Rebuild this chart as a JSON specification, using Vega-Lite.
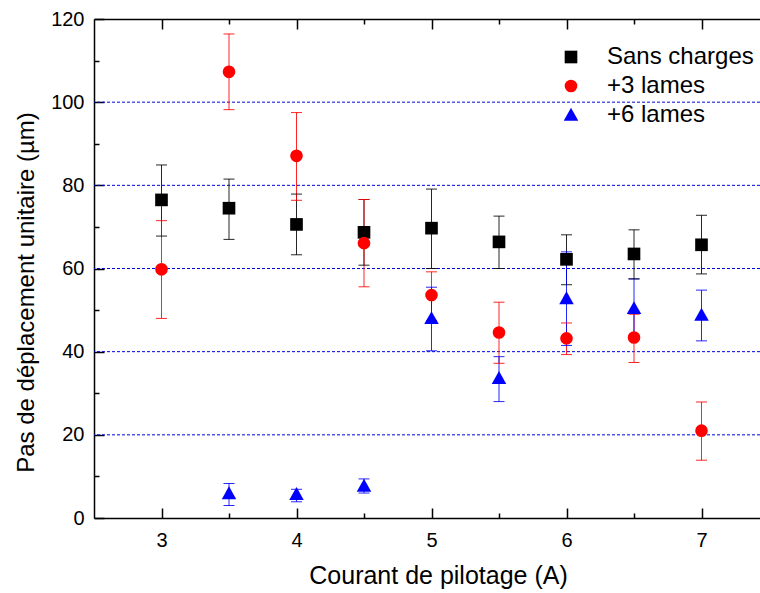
{
  "$schema": "https://vega.github.io/schema/vega-lite/v6.json",
  "width": 666,
  "height": 499,
  "autosize": "none",
  "padding": {"left": 94, "top": 19, "right": 0, "bottom": 75},
  "config": {
    "view": {"stroke": null},
    "font": "Liberation Sans",
    "axis": {"grid": false, "domainColor": "#000", "tickColor": "#000", "labelColor": "#000", "titleColor": "#000", "titleFontWeight": "normal", "labelFont": "Liberation Sans", "titleFont": "Liberation Sans", "domainWidth": 1.5, "tickWidth": 1.5},
    "legend": {"labelFont": "Liberation Sans", "labelColor": "#000"}
  },
  "datasets": {
    "pts": [
      {"s": "Sans charges", "x": 3, "y": 76.5, "lo": 67.8, "hi": 84.9},
      {"s": "Sans charges", "x": 3.5, "y": 74.5, "lo": 67.0, "hi": 81.5},
      {"s": "Sans charges", "x": 4, "y": 70.6, "lo": 63.3, "hi": 77.9},
      {"s": "Sans charges", "x": 4.5, "y": 68.7, "lo": 60.8, "hi": 76.6},
      {"s": "Sans charges", "x": 5, "y": 69.7, "lo": 60.0, "hi": 79.1},
      {"s": "Sans charges", "x": 5.5, "y": 66.4, "lo": 60.0, "hi": 72.6},
      {"s": "Sans charges", "x": 6, "y": 62.2, "lo": 56.1, "hi": 68.1},
      {"s": "Sans charges", "x": 6.5, "y": 63.5, "lo": 57.5, "hi": 69.3},
      {"s": "Sans charges", "x": 7, "y": 65.7, "lo": 58.7, "hi": 72.8},
      {"s": "+3 lames", "x": 3, "y": 59.8, "lo": 48.0, "hi": 71.5},
      {"s": "+3 lames", "x": 3.5, "y": 107.3, "lo": 98.2, "hi": 116.4},
      {"s": "+3 lames", "x": 4, "y": 87.1, "lo": 76.4, "hi": 97.5},
      {"s": "+3 lames", "x": 4.5, "y": 66.1, "lo": 55.6, "hi": 76.6},
      {"s": "+3 lames", "x": 5, "y": 53.6, "lo": 47.5, "hi": 59.2},
      {"s": "+3 lames", "x": 5.5, "y": 44.6, "lo": 37.2, "hi": 51.9},
      {"s": "+3 lames", "x": 6, "y": 43.2, "lo": 39.3, "hi": 46.9},
      {"s": "+3 lames", "x": 6.5, "y": 43.4, "lo": 37.4, "hi": 49.0},
      {"s": "+3 lames", "x": 7, "y": 21.0, "lo": 13.9, "hi": 27.9},
      {"s": "+6 lames", "x": 3.5, "y": 5.9, "lo": 3.0, "hi": 8.3},
      {"s": "+6 lames", "x": 4, "y": 5.7, "lo": 3.9, "hi": 6.9},
      {"s": "+6 lames", "x": 4.5, "y": 7.7, "lo": 6.0, "hi": 9.4},
      {"s": "+6 lames", "x": 5, "y": 48.0, "lo": 40.2, "hi": 55.5},
      {"s": "+6 lames", "x": 5.5, "y": 33.6, "lo": 28.0, "hi": 38.8},
      {"s": "+6 lames", "x": 6, "y": 52.8, "lo": 41.5, "hi": 64.0},
      {"s": "+6 lames", "x": 6.5, "y": 50.4, "lo": 43.2, "hi": 57.5},
      {"s": "+6 lames", "x": 7, "y": 48.8, "lo": 42.6, "hi": 54.8}
    ],
    "grid": [{"v": 20}, {"v": 40}, {"v": 60}, {"v": 80}, {"v": 100}]
  },
  "resolve": {"axis": {"x": "independent", "y": "independent"}, "legend": {"color": "independent", "shape": "independent"}},
  "layer": [
    {
      "data": {"name": "grid"},
      "mark": {"type": "rule", "color": "#0000dd", "strokeDash": [3, 2], "strokeWidth": 1},
      "encoding": {
        "y": {"field": "v", "type": "quantitative", "scale": {"domain": [0, 120], "nice": false, "zero": false},
          "axis": {"orient": "left", "values": [0, 20, 40, 60, 80, 100, 120], "tickSize": -10, "labelPadding": 20, "labelFontSize": 20, "title": "Pas de déplacement unitaire (µm)", "titleFontSize": 24, "titlePadding": 12, "titleY": 273}}
      }
    },
    {
      "data": {"name": "pts"},
      "mark": {"type": "rule", "strokeWidth": 1, "opacity": 0.85},
      "encoding": {
        "x": {"field": "x", "type": "quantitative", "scale": {"domain": [2.5, 7.4333], "nice": false, "zero": false},
          "axis": {"orient": "bottom", "values": [3, 4, 5, 6, 7], "tickSize": -10, "labelPadding": 22, "labelFontSize": 20, "title": "Courant de pilotage (A)", "titleFontSize": 25, "titlePadding": 13, "titleX": 344}},
        "y": {"field": "lo", "type": "quantitative",
          "axis": {"orient": "left", "values": [10, 30, 50, 70, 90, 110], "tickSize": -5, "labels": false, "domain": false, "title": null}},
        "y2": {"field": "hi"},
        "color": {"field": "s", "type": "nominal", "scale": {"domain": ["Sans charges", "+3 lames", "+6 lames"], "range": ["#000000", "#ff0000", "#0000ff"]}, "legend": null}
      }
    },
    {
      "data": {"name": "pts"},
      "mark": {"type": "tick", "orient": "horizontal", "size": 11, "thickness": 1, "opacity": 0.85},
      "encoding": {
        "x": {"field": "x", "type": "quantitative",
          "axis": {"orient": "top", "values": [3, 4, 5, 6, 7], "tickSize": -10, "labels": false, "title": null}},
        "y": {"field": "hi", "type": "quantitative", "axis": null},
        "color": {"field": "s", "type": "nominal", "legend": null}
      }
    },
    {
      "data": {"name": "pts"},
      "mark": {"type": "tick", "orient": "horizontal", "size": 11, "thickness": 1, "opacity": 0.85},
      "encoding": {
        "x": {"field": "x", "type": "quantitative",
          "axis": {"orient": "top", "values": [3.5, 4.5, 5.5, 6.5], "tickSize": -5, "labels": false, "domain": false, "title": null}},
        "y": {"field": "lo", "type": "quantitative", "axis": null},
        "color": {"field": "s", "type": "nominal", "legend": null}
      }
    },
    {
      "data": {"name": "pts"},
      "mark": {"type": "point", "filled": true, "opacity": 1, "size": 160},
      "encoding": {
        "x": {"field": "x", "type": "quantitative",
          "axis": {"orient": "bottom", "values": [3.5, 4.5, 5.5, 6.5], "tickSize": -5, "labels": false, "domain": false, "title": null}},
        "y": {"field": "y", "type": "quantitative", "axis": null},
        "color": {"field": "s", "type": "nominal",
          "legend": {"orient": "none", "legendX": 465, "legendY": 26, "title": null, "labelFontSize": 24, "labelOffset": 24, "rowPadding": 5, "symbolStrokeWidth": 0, "symbolSize": 160}},
        "shape": {"field": "s", "type": "nominal", "scale": {"domain": ["Sans charges", "+3 lames", "+6 lames"], "range": ["square", "circle", "M-1.15,0.9L1.15,0.9L0,-1.15Z"]}}
      }
    }
  ]
}
